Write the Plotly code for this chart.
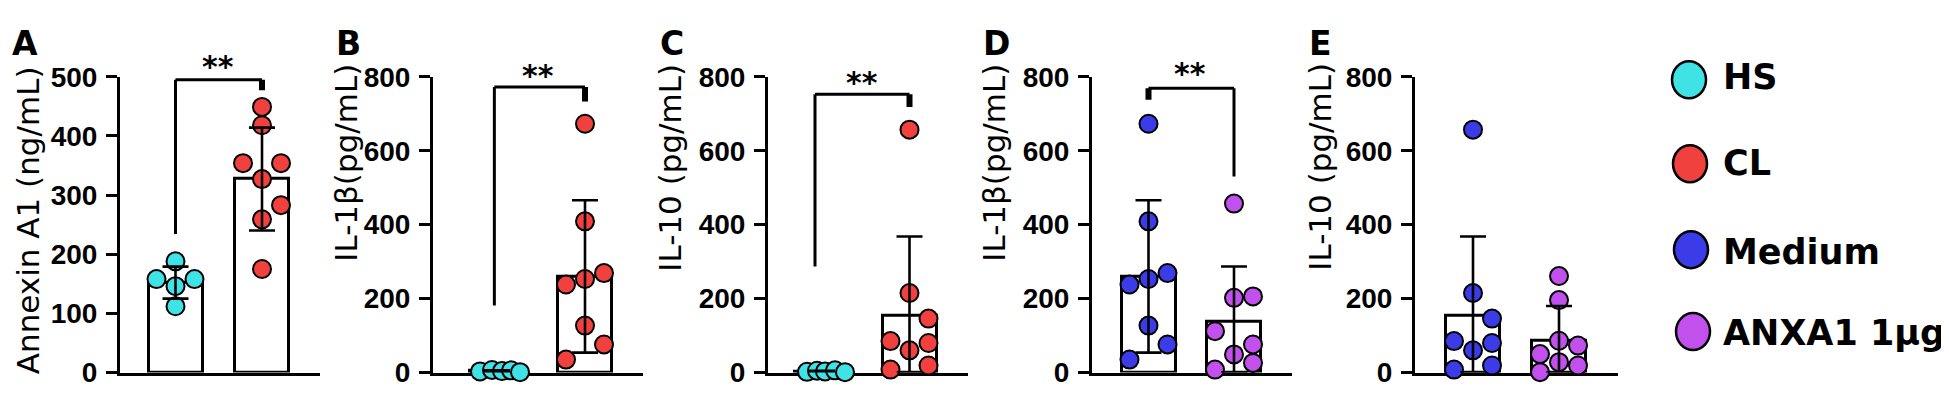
import plotly.graph_objects as go

W, H = 1949, 407

# ---------------- data ----------------
legend_names = ["HS", "CL", "Medium", "ANXA1 1μg"]
panel_letters = ["A", "B", "C", "D", "E"]
y_titles = ["Annexin A1 (ng/mL)", "IL-1β(pg/mL)", "IL-10 (pg/mL)", "IL-1β(pg/mL)", "IL-10 (pg/mL)"]
y_max = [500, 800, 800, 800, 800]
y_ticks_a = [0, 100, 200, 300, 400, 500]
y_ticks_b = [0, 200, 400, 600, 800]

a_hs = [188, 158, 158, 146, 112]
a_cl = [449, 418, 354, 354, 327, 283, 259, 175]
a_mean = [152, 327]
a_sd = [27, 87]

b_hs = [3, 7, 4, 6, 1]
b_cl = [673, 409, 238, 253, 269, 127, 76, 35]
b_mean = [4, 260]
b_sd = [2, 206]

c_hs = [2, 5, 3, 6, 1]
c_cl = [657, 215, 146, 85, 80, 60, 8, 19]
c_mean = [3, 154]
c_sd = [2, 214]

d_medium = [673, 409, 238, 253, 269, 127, 76, 35]
d_anxa1 = [457, 202, 206, 112, 76, 49, 26, 8]
d_mean = [260, 137]
d_sd = [206, 150]

e_medium = [657, 215, 146, 85, 80, 60, 8, 19]
e_anxa1 = [261, 196, 86, 73, 50, 28, 19, 1]
e_mean = [154, 86]
e_sd = [214, 94]

significance = ["**", "**", "**", "**", ""]

# ---------------- styling / layout ----------------
COL = {"HS": "#3FE3E6", "CL": "#F0413F", "Medium": "#3B3BE8", "ANXA1 1μg": "#C150EC"}

# horizontal jitter of the points (pixels)
a_hs_jit = [0, -19, 19, 0, 0]
a_cl_jit = [0, 0, -19, 19, 0, 19, 0, 0]
b_hs_jit = [-17, -5, 5, 14, 23]
b_cl_jit = [0, 0, -19, 0, 19, 0, 19, -19]
c_hs_jit = [-15, -5, 3, 13, 23]
c_cl_jit = [0, 0, 19, -19, 19, 0, -19, 19]
d_med_jit = [0, 0, -19, 0, 19, 0, 19, -19]
d_anx_jit = [0, 0, 19, -19, 19, 0, 19, -19]
e_med_jit = [0, 0, 19, -19, 19, 0, -19, 19]
e_anx_jit = [0, 0, 0, 19, -19, 0, 19, -19]

# target pixel geometry: y-axis x, x-axis end, centre of group 0, centre of group 1
geom = [
    dict(xa=120, xe=320, c0=175.5, c1=262),
    dict(xa=433, xe=643, c0=497, c1=585),
    dict(xa=768, xe=968, c0=822, c1=909.5),
    dict(xa=1092, xe=1292, c0=1148.5, c1=1234),
    dict(xa=1415, xe=1618, c0=1473, c1=1559),
]
Y0_PX, Y1_PX = 373, 77   # target rows of y=0 and y=max

# measured page placement of the figure (offset / vertical scale of the photographed page)
OX, OY, SY = 8.0, 23.2, 0.9245


def fx(X):
    return (X - OX) / W


def fy(Y):
    return 1 - ((Y - OY) / SY) / H


panels = [
    dict(groups=["HS", "CL"], pts=[a_hs, a_cl], jit=[a_hs_jit, a_cl_jit], mean=a_mean, sd=a_sd,
         ticks=y_ticks_a, bracket=dict(xl=0, xr=1, top=495, yl=234, yr=477, thick="r"),
         star=(217.5, 61)),
    dict(groups=["HS", "CL"], pts=[b_hs, b_cl], jit=[b_hs_jit, b_cl_jit], mean=b_mean, sd=b_sd,
         ticks=y_ticks_b, bracket=dict(xl=-0.03, xr=1, top=772, yl=181, yr=733, thick="r"),
         star=(538, 70)),
    dict(groups=["HS", "CL"], pts=[c_hs, c_cl], jit=[c_hs_jit, c_cl_jit], mean=c_mean, sd=c_sd,
         ticks=y_ticks_b, bracket=dict(xl=-0.08, xr=1, top=753, yl=287, yr=718, thick="r"),
         star=(862, 77)),
    dict(groups=["Medium", "ANXA1 1μg"], pts=[d_medium, d_anxa1], jit=[d_med_jit, d_anx_jit],
         mean=d_mean, sd=d_sd, ticks=y_ticks_b,
         bracket=dict(xl=0, xr=1, top=769, yl=738, yr=530, thick="l"), star=(1190, 68)),
    dict(groups=["Medium", "ANXA1 1μg"], pts=[e_medium, e_anxa1], jit=[e_med_jit, e_anx_jit],
         mean=e_mean, sd=e_sd, ticks=y_ticks_b, bracket=None, star=None),
]

title_x_px = [None, 346, 670, 994, 1320]
title_cy_px = [221, 163, 168, 163, 167]
letter_x_px = [25, 348, 672, 997, 1320]

TICK_FONT = dict(family="Liberation Sans", size=28, color="black", weight="bold")
TITLE_FONT = dict(family="DejaVu Sans", size=31, color="black")

fig = go.Figure()
shapes = []
annotations = []

for i, (p, g) in enumerate(zip(panels, geom)):
    n = i + 1
    xs = "x" if n == 1 else f"x{n}"
    ys = "y" if n == 1 else f"y{n}"
    s = g["c1"] - g["c0"]
    r0 = (g["xa"] - g["c0"]) / s
    r1 = (g["xe"] - g["c0"]) / s
    bw = 54 / s

    fig.add_trace(go.Bar(
        x=[0, 1], y=p["mean"], width=[bw, bw], xaxis=xs, yaxis=ys,
        marker=dict(color="white", line=dict(color="black", width=3)),
        showlegend=False, hoverinfo="skip"))

    for k, grp in enumerate(p["groups"]):
        vals = p["pts"][k]
        xj = [k + j / s for j in p["jit"][k]]
        fig.add_trace(go.Scatter(
            x=xj, y=vals, mode="markers", xaxis=xs, yaxis=ys, cliponaxis=False,
            marker=dict(size=18, color=COL[grp], line=dict(color="black", width=2)),
            showlegend=False, name=grp))

    lower = [min(sd, m) for sd, m in zip(p["sd"], p["mean"])]
    fig.add_trace(go.Scatter(
        x=[0, 1], y=p["mean"], mode="markers", xaxis=xs, yaxis=ys, cliponaxis=False,
        marker=dict(size=1, opacity=0),
        error_y=dict(type="data", array=p["sd"], arrayminus=lower, color="black",
                     thickness=2.6, width=13),
        showlegend=False, hoverinfo="skip"))

    xdom = [fx(g["xa"]), fx(g["xe"])]
    ydom = [fy(Y0_PX), fy(Y1_PX)]
    xkey = "xaxis" if n == 1 else f"xaxis{n}"
    ykey = "yaxis" if n == 1 else f"yaxis{n}"
    fig.update_layout({
        xkey: dict(domain=xdom, range=[r0, r1], anchor=ys, showline=True, linecolor="black",
                   linewidth=3, showticklabels=False, ticks="", showgrid=False, zeroline=False,
                   fixedrange=True, layer="below traces"),
        ykey: dict(domain=ydom, range=[0, y_max[i]], anchor=xs, showline=True, linecolor="black",
                   linewidth=3, ticks="outside", ticklen=11, tickwidth=3, tickcolor="black",
                   tickvals=p["ticks"], tickfont=TICK_FONT, showgrid=False, zeroline=False,
                   fixedrange=True, ticklabelstandoff=3),
    })

    b = p["bracket"]
    if b:
        lw_l = 6 if b["thick"] == "l" else 3
        lw_r = 6 if b["thick"] == "r" else 3
        shapes.append(dict(type="line", xref=xs, yref=ys, x0=b["xl"], x1=b["xr"],
                           y0=b["top"], y1=b["top"], line=dict(color="black", width=3)))
        shapes.append(dict(type="line", xref=xs, yref=ys, x0=b["xl"], x1=b["xl"],
                           y0=b["top"], y1=b["yl"], line=dict(color="black", width=lw_l)))
        shapes.append(dict(type="line", xref=xs, yref=ys, x0=b["xr"], x1=b["xr"],
                           y0=b["top"], y1=b["yr"], line=dict(color="black", width=lw_r)))
    if p["star"] and significance[i]:
        sx, sy = p["star"]
        annotations.append(dict(text=significance[i], xref="paper", yref="paper",
                                x=fx(sx), y=fy(sy + 6), xanchor="center", yanchor="middle",
                                showarrow=False,
                                font=dict(family="DejaVu Sans", size=30, color="black", weight="bold")))

    annotations.append(dict(text=panel_letters[i], xref="paper", yref="paper",
                            x=fx(letter_x_px[i]), y=1.0, xanchor="center", yanchor="top",
                            showarrow=False, borderpad=0,
                            font=dict(family="DejaVu Sans", size=33, color="black", weight="bold")))
    if title_x_px[i] is None:
        annotations.append(dict(text=y_titles[i], xref="paper", yref="paper", textangle=-90,
                                x=0.5 / W, y=fy(title_cy_px[i]), xanchor="left",
                                yanchor="middle", showarrow=False, borderpad=0, font=TITLE_FONT))
    else:
        annotations.append(dict(text=y_titles[i], xref="paper", yref="paper", textangle=-90,
                                x=fx(title_x_px[i]), y=fy(title_cy_px[i]), xanchor="center",
                                yanchor="middle", showarrow=False, font=TITLE_FONT))

# custom legend
leg_circle = [(1689, 80), (1690, 164), (1691, 250), (1693, 332)]
leg_text_y = [77, 163, 252, 333]
for name, (cx, cy), ty in zip(legend_names, leg_circle, leg_text_y):
    shapes.append(dict(type="circle", xref="paper", yref="paper", xsizemode="pixel",
                       ysizemode="pixel", xanchor=fx(cx), yanchor=fy(cy),
                       x0=-17, x1=17, y0=-18.5, y1=18.5, fillcolor=COL[name],
                       line=dict(color="black", width=2.5)))
    annotations.append(dict(text=name, xref="paper", yref="paper", x=fx(1721), y=fy(ty),
                            xanchor="left", yanchor="middle", showarrow=False,
                            font=dict(family="DejaVu Sans", size=35, color="black", weight="bold")))

fig.update_layout(
    width=W, height=H, margin=dict(l=0, r=0, t=0, b=0),
    paper_bgcolor="white", plot_bgcolor="white",
    shapes=shapes, annotations=annotations, showlegend=False, bargap=0,
)

fig.write_html("out.html", config={"displayModeBar": False})
